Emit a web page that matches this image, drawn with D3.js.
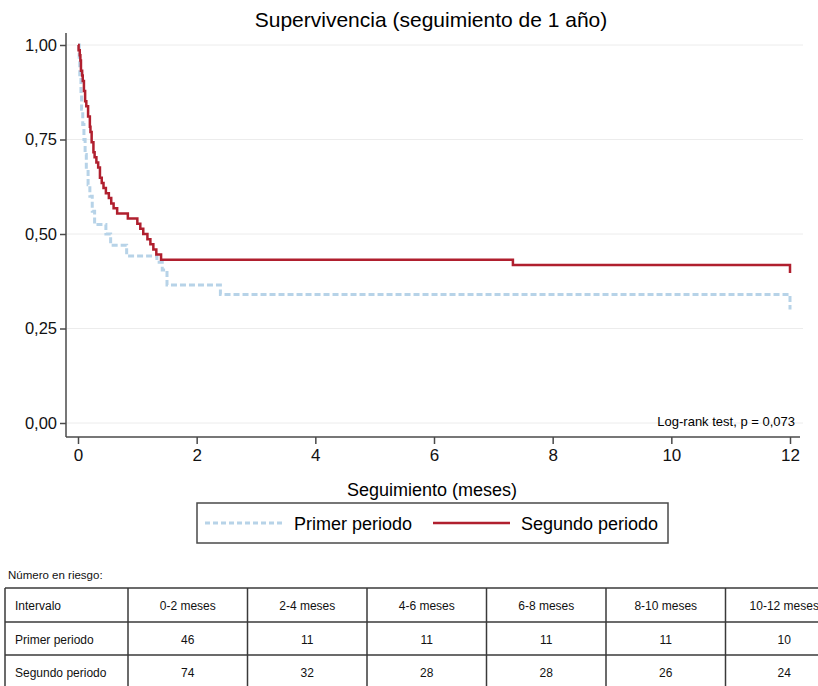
<!DOCTYPE html>
<html>
<head>
<meta charset="utf-8">
<script src="https://cdn.jsdelivr.net/npm/d3@7"></script>
<style>
    body { margin: 0; background: #fff; font-family: "Liberation Sans", Arial, sans-serif; }
    .grid line { stroke: #ececec; stroke-width: 1; }
    .axis path, .axis line { stroke: #4a4a4a; stroke-width: 1.5; }
    .axis text { font-size: 16.5px; fill: #111; font-family: "Liberation Sans", Arial, sans-serif; }
    .tabla { font-family: "Liberation Sans Narrow", "Arial Narrow", "Liberation Sans", sans-serif; font-size: 12px; fill: #111; }
</style>
</head>
<body>
<div id="chart"></div>
<script>
//Datos
const MESES_TICKS = [0, 2, 4, 6, 8, 10, 12];
const SUPERV_TICKS = [0, 0.25, 0.5, 0.75, 1];

//Primer periodo (tiempo en meses, supervivencia)
const tiempo_primer = [0, 0.02, 0.03, 0.05, 0.06, 0.08, 0.10, 0.12, 0.14, 0.17, 0.20, 0.24, 0.28, 0.47, 0.55, 0.82, 1.33, 1.42, 1.50, 2.40, 12];
const superv_primer = [1, 0.96, 0.915, 0.87, 0.83, 0.79, 0.75, 0.71, 0.67, 0.63, 0.60, 0.56, 0.525, 0.50, 0.47, 0.442, 0.425, 0.405, 0.365, 0.340, 0.300];

//Segundo periodo
const tiempo_segundo = [0, 0.01, 0.03, 0.04, 0.05, 0.07, 0.08, 0.10, 0.12, 0.14, 0.17, 0.20, 0.21, 0.23, 0.26, 0.28, 0.31, 0.34, 0.37, 0.40, 0.43, 0.47, 0.52, 0.56, 0.60, 0.66, 0.84, 1.00, 1.05, 1.10, 1.17, 1.22, 1.27, 1.32, 1.40, 7.33, 12];
const superv_segundo = [1, 0.986, 0.973, 0.959, 0.932, 0.919, 0.905, 0.878, 0.851, 0.838, 0.811, 0.784, 0.770, 0.743, 0.716, 0.703, 0.689, 0.676, 0.649, 0.635, 0.622, 0.608, 0.595, 0.581, 0.568, 0.554, 0.541, 0.527, 0.514, 0.500, 0.486, 0.473, 0.459, 0.446, 0.432, 0.418, 0.397];

//Tabla de número en riesgo
const intervalos = ['0-2 meses', '2-4 meses', '4-6 meses', '6-8 meses', '8-10 meses', '10-12 meses'];
const riesgo_primer = [46, 11, 11, 11, 11, 10];
const riesgo_segundo = [74, 32, 28, 28, 26, 24];

//Colores fijos
const COLOR_PRIMER = '#b7d3e8',
COLOR_SEGUNDO = '#b01f2e';

let svg = d3.select('#chart')
    .append('svg')
    .attr('width', 818)
    .attr('height', 686);

let x = d3.scaleLinear().domain([0, 12]).range([78, 790]);
let y = d3.scaleLinear().domain([0, 1]).range([423, 45]);
let fmt = function(d) { return d3.format('.2f')(d).replace('.', ','); };

//Título
svg.append('text')
    .attr('x', 431).attr('y', 27)
    .attr('text-anchor', 'middle')
    .style('font-size', '21px')
    .text('Supervivencia (seguimiento de 1 año)');

//Rejilla
svg.append('g')
    .attr('class', 'grid')
    .selectAll('line')
    .data(SUPERV_TICKS)
    .enter()
    .append('line')
    .attr('x1', 67).attr('x2', 803)
    .attr('y1', function(d) { return y(d); })
    .attr('y2', function(d) { return y(d); });

//Ejes
svg.append('g')
    .attr('class', 'axis')
    .attr('transform', 'translate(66,0)')
    .call(d3.axisLeft(y).tickValues(SUPERV_TICKS).tickFormat(fmt).tickSize(6).tickPadding(3).tickSizeOuter(0))
    .call(function(g) { g.select('.domain').attr('d', 'M0,33V437'); });

svg.append('g')
    .attr('class', 'axis')
    .attr('transform', 'translate(0,437)')
    .call(d3.axisBottom(x).tickValues(MESES_TICKS).tickSize(7).tickPadding(5).tickSizeOuter(0))
    .call(function(g) {
        g.select('.domain').attr('d', 'M66,0H800');
        g.selectAll('.tick text').style('font-size', '17px');
    });

svg.append('text')
    .attr('x', 432).attr('y', 496)
    .attr('text-anchor', 'middle')
    .style('font-size', '18px')
    .text('Seguimiento (meses)');

//Curvas
let linea = d3.line()
    .x(function(d) { return x(d[0]); })
    .y(function(d) { return y(d[1]); })
    .curve(d3.curveStepAfter);

svg.append('path')
    .datum(d3.zip(tiempo_primer, superv_primer))
    .attr('d', linea)
    .attr('fill', 'none')
    .attr('stroke', COLOR_PRIMER)
    .attr('stroke-width', 3)
    .attr('stroke-dasharray', '6,3');

svg.append('path')
    .datum(d3.zip(tiempo_segundo, superv_segundo))
    .attr('d', linea)
    .attr('fill', 'none')
    .attr('stroke', COLOR_SEGUNDO)
    .attr('stroke-width', 2.5);

svg.append('text')
    .attr('x', 795).attr('y', 426)
    .attr('text-anchor', 'end')
    .style('font-size', '13px')
    .text('Log-rank test, p = 0,073');

//Leyenda
let leyenda = svg.append('g');
leyenda.append('rect')
    .attr('x', 197).attr('y', 503).attr('width', 471).attr('height', 40)
    .attr('fill', 'none').attr('stroke', '#4a4a4a').attr('stroke-width', 1.5);
leyenda.append('line')
    .attr('x1', 205).attr('x2', 283).attr('y1', 523).attr('y2', 523)
    .attr('stroke', COLOR_PRIMER).attr('stroke-width', 3).attr('stroke-dasharray', '5,3');
leyenda.append('text')
    .attr('x', 294).attr('y', 530)
    .style('font-size', '18px')
    .text('Primer periodo');
leyenda.append('line')
    .attr('x1', 433).attr('x2', 510).attr('y1', 523).attr('y2', 523)
    .attr('stroke', COLOR_SEGUNDO).attr('stroke-width', 2.5);
leyenda.append('text')
    .attr('x', 521).attr('y', 530)
    .style('font-size', '18px')
    .text('Segundo periodo');

//Tabla
svg.append('text')
    .attr('class', 'tabla')
    .attr('x', 8).attr('y', 579)
    .style('font-size', '11.5px')
    .text('Número en riesgo:');

let filas = [
    ['Intervalo'].concat(intervalos),
    ['Primer periodo'].concat(riesgo_primer),
    ['Segundo periodo'].concat(riesgo_segundo)
];
let colX = [5, 128, 247.5, 367, 486.5, 606, 725.5, 843];
let filaY = [588, 622, 655, 689];

let tabla = svg.append('g');
filaY.forEach(function(yy) {
    tabla.append('line')
        .attr('x1', 5).attr('x2', 818).attr('y1', yy).attr('y2', yy)
        .attr('stroke', '#3a3a3a').attr('stroke-width', 1.5);
});
colX.forEach(function(xx) {
    tabla.append('line')
        .attr('x1', xx).attr('x2', xx).attr('y1', 588).attr('y2', 689)
        .attr('stroke', '#3a3a3a').attr('stroke-width', 1.5);
});
filas.forEach(function(fila, i) {
    tabla.selectAll('.celda-' + i)
        .data(fila)
        .enter()
        .append('text')
        .attr('class', 'tabla celda-' + i)
        .attr('x', function(d, j) { return j == 0 ? 15 : (colX[j] + colX[j + 1]) / 2; })
        .attr('y', (filaY[i] + filaY[i + 1]) / 2 + 5)
        .attr('text-anchor', function(d, j) { return j == 0 ? 'start' : 'middle'; })
        .text(function(d) { return d; });
});
</script>
</body>
</html>
